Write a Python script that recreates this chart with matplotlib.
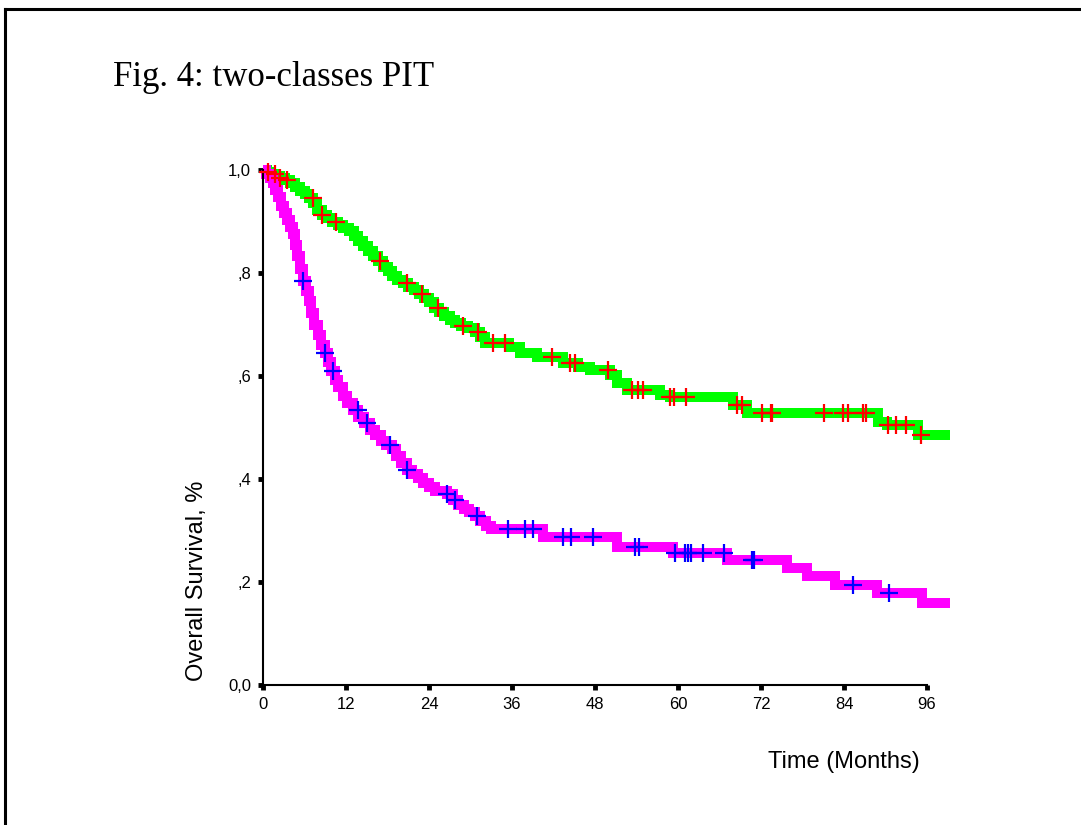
import numpy as np
import matplotlib
matplotlib.use("Agg")
import matplotlib.pyplot as plt
from matplotlib.lines import Line2D

# survival curves (months, survival fraction)
green_t = [0, 0.6, 1.2, 1.8, 2.5, 3.2, 3.9, 4.6, 5.3, 6.0, 6.7, 7.3, 7.8, 8.5, 9.3,
           10.0, 10.8, 11.6, 12.4, 13.1, 13.8, 14.5, 15.2, 15.9, 16.6, 17.3, 18.0,
           18.7, 19.4, 20.2, 21.0, 21.8, 22.6, 23.3, 24.0, 24.7, 25.4, 26.2, 27.0,
           27.8, 28.6, 29.6, 30.6, 31.4, 32.1, 35.5, 37.2, 39.6, 43.4, 45.5, 47.3,
           50.2, 51.2, 52.6, 57.4, 58.8, 68.0, 70.0, 88.9, 90.2, 94.7, 99.3]
green_s = [1.0, 0.996, 0.992, 0.989, 0.985, 0.980, 0.974, 0.967, 0.960, 0.953, 0.946,
           0.936, 0.922, 0.913, 0.906, 0.900, 0.894, 0.888, 0.881, 0.872, 0.863, 0.853,
           0.843, 0.833, 0.823, 0.812, 0.803, 0.795, 0.786, 0.780, 0.773, 0.767, 0.760,
           0.752, 0.743, 0.733, 0.724, 0.716, 0.709, 0.703, 0.698, 0.693, 0.686, 0.676,
           0.665, 0.657, 0.645, 0.637, 0.625, 0.618, 0.612, 0.602, 0.586, 0.573, 0.563,
           0.559, 0.544, 0.528, 0.511, 0.505, 0.485, 0.485]

magenta_t = [0, 0.5, 1.0, 1.4, 1.8, 2.2, 2.6, 3.0, 3.5, 3.9, 4.3, 4.6, 4.9, 5.3, 5.8,
             6.2, 6.6, 7.0, 7.4, 7.9, 8.4, 8.9, 9.4, 9.9, 10.4, 10.9, 11.5, 12.2, 13.0,
             13.8, 14.6, 15.4, 16.2, 17.0, 17.8, 18.6, 19.3, 20.0, 20.8, 21.6, 22.4,
             23.2, 24.0, 24.8, 26.6, 27.4, 28.2, 29.0, 29.8, 30.6, 31.4, 32.2, 33.0,
             40.5, 51.2, 59.3, 67.1, 75.8, 78.6, 82.7, 88.8, 95.3, 99.3]
magenta_s = [1.0, 0.993, 0.985, 0.975, 0.962, 0.948, 0.930, 0.917, 0.903, 0.890, 0.875,
             0.855, 0.833, 0.808, 0.785, 0.765, 0.745, 0.722, 0.700, 0.680, 0.660, 0.645,
             0.628, 0.610, 0.593, 0.578, 0.562, 0.548, 0.534, 0.520, 0.508, 0.496, 0.485,
             0.474, 0.466, 0.458, 0.445, 0.432, 0.418, 0.410, 0.402, 0.393, 0.385, 0.377,
             0.371, 0.360, 0.350, 0.342, 0.335, 0.328, 0.318, 0.308, 0.303, 0.287, 0.268,
             0.256, 0.243, 0.227, 0.212, 0.194, 0.179, 0.159, 0.159]

# censored observations
red_cens = [0.7, 1.7, 2.5, 3.5, 7.2, 8.5, 10.6, 16.9, 20.8, 23.0, 25.3, 28.9, 31.1, 33.3,
            35.0, 41.8, 44.4, 45.1, 49.9, 53.3, 54.2, 54.9, 58.8, 59.4, 61.2, 68.5, 69.3,
            72.1, 73.4, 73.6, 81.1, 83.9, 84.6, 86.7, 87.2, 90.4, 91.5, 93.0, 95.1]
blue_cens = [5.8, 9.0, 10.1, 13.7, 15.0, 18.4, 20.8, 26.6, 27.8, 30.9, 35.4, 37.9, 39.0,
             43.4, 44.5, 47.7, 53.8, 54.4, 59.6, 61.0, 61.4, 61.9, 63.6, 66.6, 70.7, 71.0,
             85.3, 90.5]

x_ticks = [0, 12, 24, 36, 48, 60, 72, 84, 96]
y_ticks = [0.0, 0.2, 0.4, 0.6, 0.8, 1.0]
y_labels = ["0,0", ",2", ",4", ",6", ",8", "1,0"]


def surv_at(t, s, when):
    idx = np.searchsorted(t, when, side="right") - 1
    return np.array(s)[idx]


fig = plt.figure(figsize=(10.81, 8.25), dpi=100)
W, H = 1081, 825
px_month = 83 / 12
ax = fig.add_axes([263 / W, (H - 685) / H, 100 * px_month / W, 515 / H])

ax.step(green_t, green_s, where="post", color="#00ff00", lw=7.2,
        solid_joinstyle="miter", solid_capstyle="butt", clip_on=False, zorder=2)
ax.step(magenta_t, magenta_s, where="post", color="#ff00ff", lw=7.2,
        solid_joinstyle="miter", solid_capstyle="butt", clip_on=False, zorder=2)
ax.plot(red_cens, surv_at(green_t, green_s, red_cens), ls="none", marker="+",
        ms=13, mew=1.6, color="#ff0000", clip_on=False, zorder=3)
ax.plot(blue_cens, surv_at(magenta_t, magenta_s, blue_cens), ls="none", marker="+",
        ms=13, mew=1.6, color="#0000ff", clip_on=False, zorder=3)

ax.set_xlim(0, 100)
ax.set_ylim(0, 1)
for side in ("top", "right"):
    ax.spines[side].set_visible(False)
ax.spines["left"].set_bounds(0, 1)
ax.spines["bottom"].set_bounds(0, 96)
for side in ("left", "bottom"):
    ax.spines[side].set_linewidth(1.5)
ax.set_xticks(x_ticks)
ax.set_xticklabels([str(v) for v in x_ticks])
ax.set_yticks(y_ticks)
ax.set_yticklabels(y_labels)
ax.tick_params(length=3.5, width=3.5, labelsize=12, pad=5)
for lab in ax.get_xticklabels() + ax.get_yticklabels():
    lab.set_fontfamily("Liberation Sans")

fig.text(197 / W, 1 - 581 / H, "Overall Survival, %", rotation=90, ha="center",
         va="center", fontsize=17, family="Liberation Sans")
fig.text(844 / W, 1 - 762 / H, "Time (Months)", ha="center", va="center",
         fontsize=17, family="Liberation Sans")
fig.text(113 / W, 1 - 86 / H, "Fig. 4: two-classes PIT", ha="left", va="baseline",
         fontsize=25, family="Liberation Serif")

# frame around the figure (left and top edge only)
fig.add_artist(Line2D([5 / W, 5 / W], [0, 1 - 9 / H], color="black", lw=2.2))
fig.add_artist(Line2D([5 / W, 1], [1 - 9 / H, 1 - 9 / H], color="black", lw=2.2))

fig.savefig("out.png", dpi=100)
